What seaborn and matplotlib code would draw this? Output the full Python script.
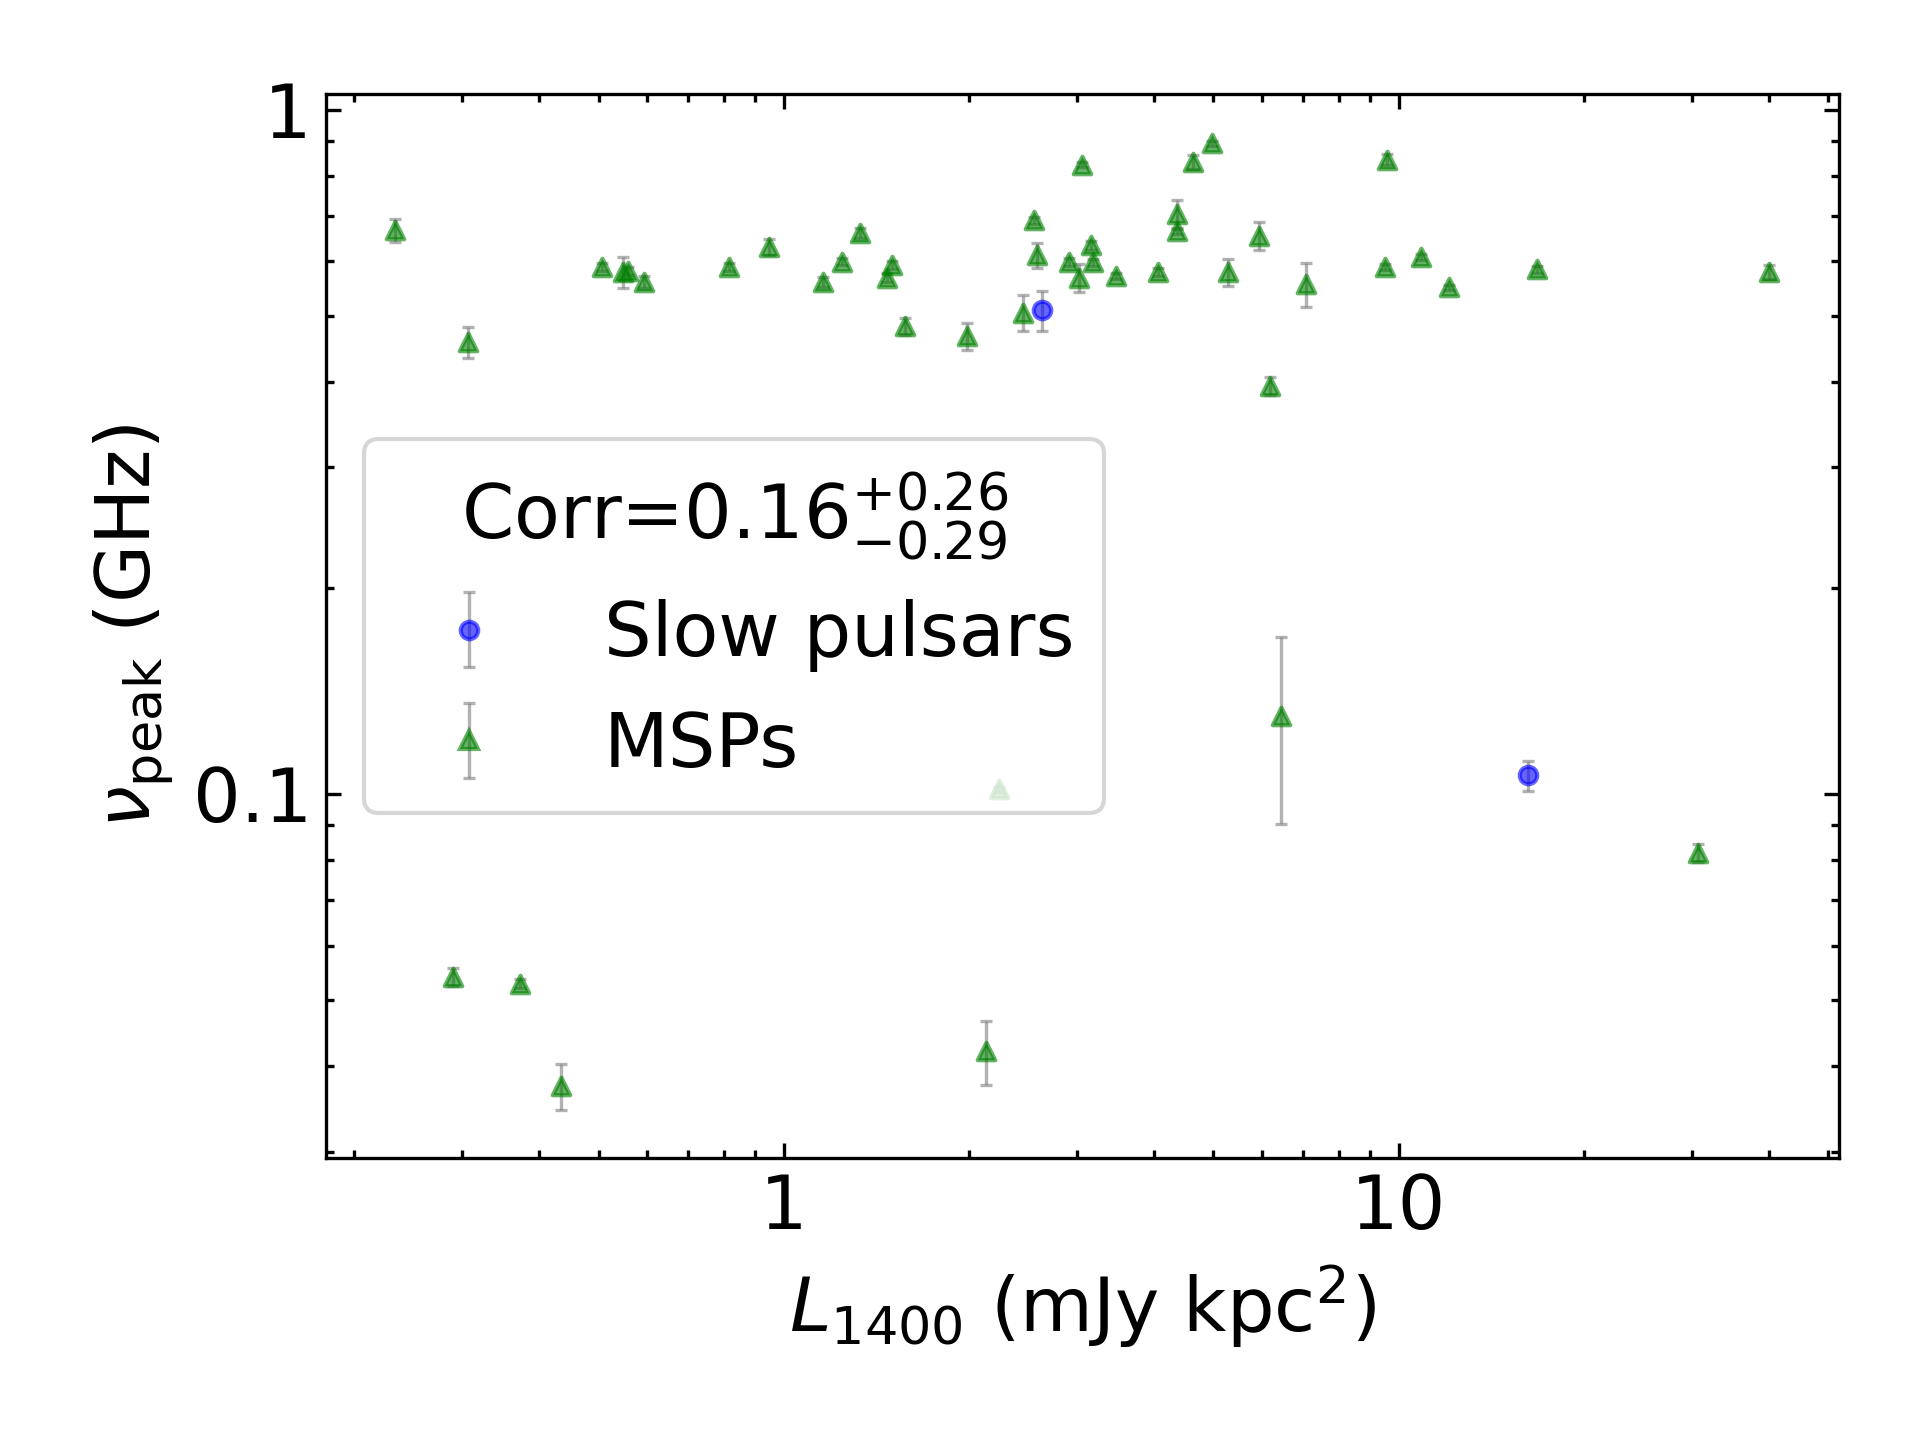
import numpy as np
import pandas as pd
import matplotlib
matplotlib.use("Agg")
import matplotlib.pyplot as plt
from matplotlib.ticker import FuncFormatter
import seaborn as sns

# ---- data ----
msp_L = [0.233, 0.2896, 0.307, 0.373, 0.4345, 0.507, 0.548, 0.558, 0.592, 0.814,
         0.945, 1.157, 1.246, 1.329, 1.475, 1.502, 1.573, 1.984, 2.131, 2.237,
         2.447, 2.55, 2.585, 2.914, 3.018, 3.06, 3.157, 3.188, 3.467, 4.057,
         4.355, 4.366, 4.637, 4.98, 5.29, 5.92, 6.19, 6.45, 7.06, 9.51,
         9.58, 10.89, 12.1, 16.81, 30.67, 40.1]
msp_nu = [0.666, 0.054, 0.457, 0.0528, 0.0374, 0.588, 0.578, 0.581, 0.560, 0.589,
          0.629, 0.560, 0.599, 0.661, 0.568, 0.592, 0.482, 0.467, 0.0421, 0.1015,
          0.505, 0.689, 0.613, 0.599, 0.568, 0.831, 0.633, 0.598, 0.571, 0.579,
          0.665, 0.703, 0.838, 0.892, 0.578, 0.654, 0.3945, 0.130, 0.556, 0.588,
          0.845, 0.608, 0.550, 0.584, 0.082, 0.579]
msp_err = [0.025, 0.0016, 0.024, 0.0008, 0.0029, 0.008, 0.030, 0.007, 0.012, 0.008,
           0.017, 0.010, 0.007, 0.011, 0.008, 0.008, 0.014, 0.021, 0.0045, 0.001,
           0.030, 0.008, 0.026, 0.008, 0.027, 0.008, 0.010, 0.007, 0.006, 0.007,
           0.007, 0.035, 0.020, 0.007, 0.026, 0.031, 0.012, 0.0395, 0.041, 0.006,
           0.015, 0.006, 0.005, 0.007, 0.0025, 0.013]

slow_L = [2.63, 16.23]
slow_nu = [0.5087, 0.1064]
slow_err = [0.034, 0.0053]

corr_title = r"Corr=$0.16^{+0.26}_{-0.29}$"
labels = ["Slow pulsars", "MSPs"]

msp = pd.DataFrame({"L": msp_L, "nu": msp_nu, "err": msp_err})
slow = pd.DataFrame({"L": slow_L, "nu": slow_nu, "err": slow_err})

fig = plt.figure(figsize=(6.4, 4.8), dpi=300)
ax = fig.add_axes([0.170, 0.196, 0.958 - 0.170, 0.935 - 0.196])

alpha = 0.6
ms = 4.2
ebkw = dict(ecolor="gray", elinewidth=0.8, capsize=1.5, capthick=0.8, alpha=alpha)
ax.errorbar(slow["L"], slow["nu"], yerr=slow["err"], fmt="none", **ebkw)
ax.errorbar(msp["L"], msp["nu"], yerr=msp["err"], fmt="none", **ebkw)

sns.scatterplot(data=slow, x="L", y="nu", ax=ax, marker="o", s=ms**2,
                color="b", edgecolor="b", linewidth=1.0, alpha=alpha, legend=False, zorder=3)
sns.scatterplot(data=msp, x="L", y="nu", ax=ax, marker="^", s=ms**2,
                color="g", edgecolor="g", linewidth=1.0, alpha=alpha, legend=False, zorder=3)

# legend proxies (errorbar-style handles)
h1 = ax.errorbar([np.nan], [np.nan], yerr=[np.nan], fmt="o", color="b", ms=ms,
                 label=labels[0], **ebkw)
h2 = ax.errorbar([np.nan], [np.nan], yerr=[np.nan], fmt="^", color="g", ms=ms,
                 label=labels[1], **ebkw)

ax.set_xscale("log")
ax.set_yscale("log")
ax.set_xlim(0.1805, 52.1)
ax.set_ylim(0.0294, 1.055)

fmt = FuncFormatter(lambda v, _: f"{v:g}")
ax.xaxis.set_major_formatter(fmt)
ax.yaxis.set_major_formatter(fmt)
ax.tick_params(which="both", direction="in", top=True, right=True, labelsize=18)
ax.tick_params(which="major", length=3.5, width=0.8)
ax.tick_params(which="minor", length=2, width=0.8)

ax.set_xlabel(r"$L_{1400}$ (mJy kpc$^2$)", fontsize=18)
ax.set_ylabel(r"$\nu_{\rm peak}$ (GHz)", fontsize=18)

leg = ax.legend(handles=[h1, h2], labels=labels, loc="center left", fontsize=18,
                title=corr_title, title_fontsize=18)

fig.savefig("out.png", dpi=300)
